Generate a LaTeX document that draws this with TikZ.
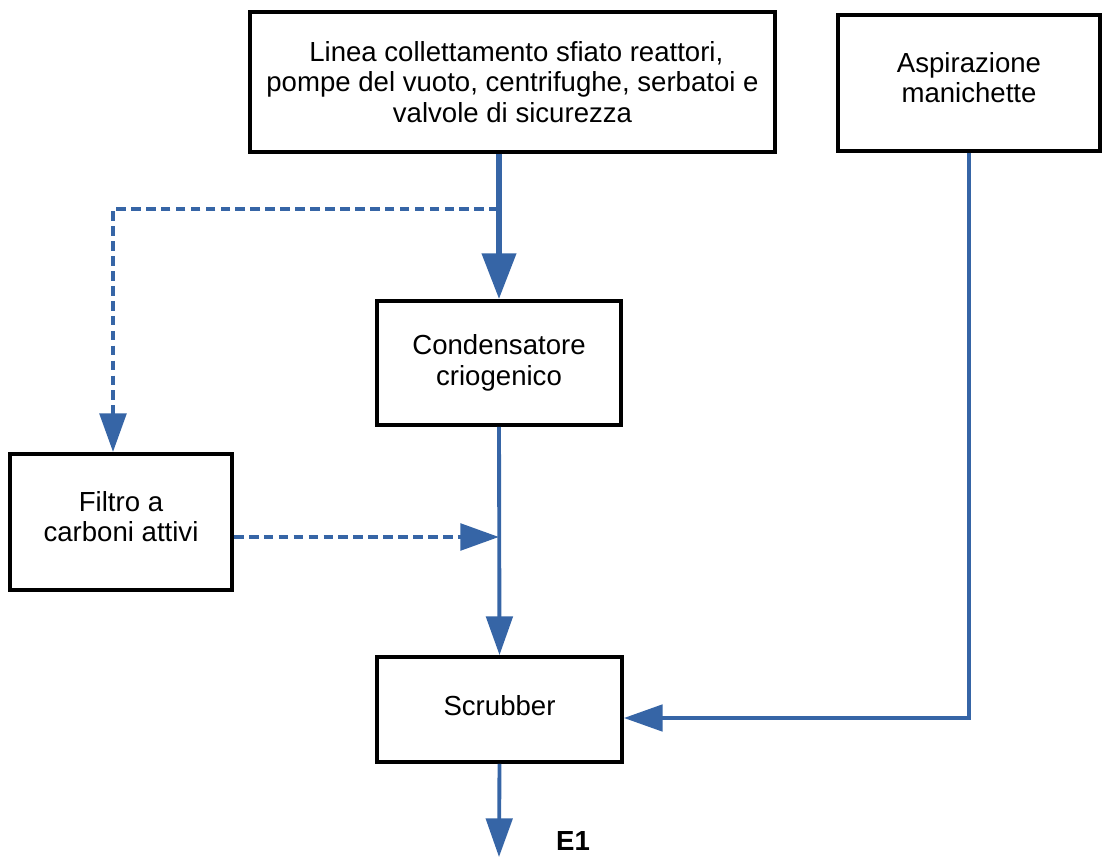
\documentclass[tikz,border=0pt]{standalone}
\usepackage{fontspec}
\setmainfont{Liberation Sans}
\usetikzlibrary{arrows.meta}
\definecolor{flowblue}{RGB}{54,101,166}
\begin{document}
\begin{tikzpicture}
[x=0.02cm,y=-0.02cm,
  boxdecorate/.style={shape=rectangle,draw,line width=2.2pt,align=center,
    font=\fontsize{15.7}{17.3}\selectfont,inner sep=0pt},%
  mainline/.style={draw=flowblue,line width=3.4pt,
    -{Triangle[length=26pt,width=19pt]}},%
  thinline/.style={draw=flowblue,line width=2.2pt,
    -{Triangle[length=22pt,width=15pt]}},%
  dashline/.style={draw=flowblue,line width=2.6pt,dash pattern=on 5.5pt off 3pt,
    -{Triangle[length=22pt,width=15pt]}}]
\useasboundingbox (0,0) rectangle (1105,857);
%% boxes
\node (linea) at (512.5,82) [boxdecorate,minimum width=525*0.02cm,minimum height=140*0.02cm]
  {\ Linea collettamento sfiato reattori,\\pompe del vuoto, centrifughe, serbatoi e\\valvole di sicurezza};
\node (aspir) at (969,83) [boxdecorate,minimum width=262*0.02cm,minimum height=136*0.02cm]
  {Aspirazione\\manichette\\[-11.1pt]};
\node (cond) at (499,363) [boxdecorate,minimum width=244*0.02cm,minimum height=124*0.02cm]
  {Condensatore\\criogenico};
\node (filtro) at (121,522) [boxdecorate,minimum width=222*0.02cm,minimum height=136*0.02cm]
  {Filtro a\\carboni attivi\\[-11.1pt]};
\node (scrub) at (499.5,709.5) [boxdecorate,minimum width=245*0.02cm,minimum height=105*0.02cm]
  {Scrubber\\[-12.2pt]};
%% helper points
\coordinate (branch) at (113,209);
\coordinate (join) at (499,537);
\coordinate (corner) at (969,718);
\coordinate (out) at (499,857);
%% connectors
\path[mainline] (linea.south -| cond.north) -- (cond.north);
\path[dashline] (cond.north |- branch) -- (branch) -- (branch |- filtro.north);
\path[thinline] (cond.south) -- (scrub.north);
\path[dashline] (filtro.east |- join) -- (join);
\path[thinline] (aspir.south) -- (corner) -- (corner -| scrub.east);
\path[thinline] (scrub.south) -- (out);
\node (e1) at (573,841) [font=\bfseries\fontsize{15.7}{17}\selectfont,inner sep=1pt] {E1};
\end{tikzpicture}
\end{document}
